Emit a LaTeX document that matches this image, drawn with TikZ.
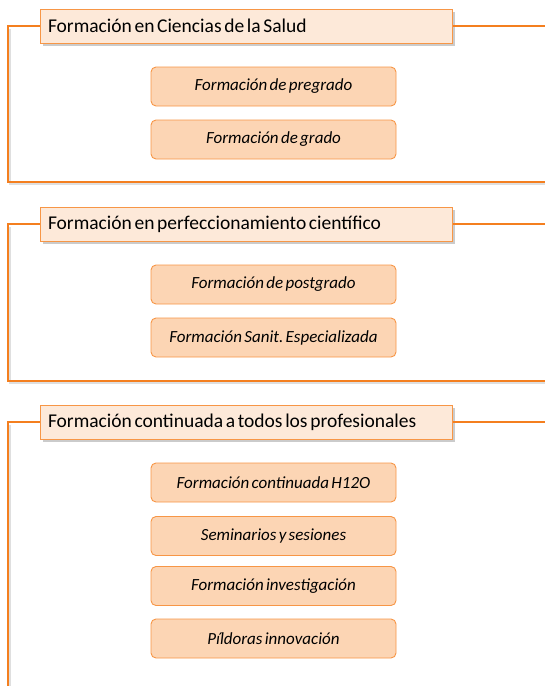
\documentclass[tikz,border=0pt]{standalone}
\usepackage{fontspec}
\setmainfont{Carlito}
\newfontfamily\tightfont[WordSpace=0.6]{Carlito}
\frenchspacing
\usepackage{tikz}
\usetikzlibrary{shadows}
\definecolor{hdrfill}{HTML}{FDE9D9}
\definecolor{boxfill}{HTML}{FCD5B4}
\definecolor{boxline}{HTML}{F79646}
\definecolor{frameline}{HTML}{F47F1F}
\tikzset{
  header/.style={draw=boxline,fill=hdrfill,line width=1pt,
    text width=396pt,inner xsep=8pt,minimum height=34pt,align=flush left,
    font=\tightfont\fontsize{19.5}{21}\selectfont,
    drop shadow={shadow xshift=3pt,shadow yshift=-3pt,fill=black!45,opacity=.45}},
  item/.style={draw=boxline,fill=boxfill,line width=0.9pt,rounded corners=5pt,
    minimum width=245pt,minimum height=39pt,inner sep=0pt,
    font=\tightfont\fontsize{17}{19}\selectfont\itshape},
  frame/.style={draw=frameline,line width=1.6pt},
  frameshade/.style={draw=black!25,line width=2pt,opacity=.5}
}

\begin{document}
\begin{tikzpicture}[x=1pt,y=-1pt]
  \useasboundingbox (0,0) rectangle (545,686);
  % Frame shading
  \foreach \t/\b in {27/182,225/381} {
    \draw[frameshade] (10,\t+2) -- (10,\b+2) -- (545,\b+2);
  }
  \draw[frameshade] (10,425) -- (10,686);
  % Headers
  \node[header] (salud) at (246,26) {Formación en Ciencias de la Salud};
  \node[header] (perfec) at (246,224) {Formación en perfeccionamiento científico};
  \node[header] (contin) at (246,422) {Formación continuada a todos los profesionales};
  % Frames
  \coordinate (saludR) at (545,26);
  \coordinate (saludB) at (545,182);
  \coordinate (perfecR) at (545,224);
  \coordinate (perfecB) at (545,381);
  \coordinate (continR) at (545,422);
  \coordinate (continB) at (8,686);
  \draw[frame] (salud.west) -- (8,26) |- (saludB);
  \draw[frame] (salud.east) -- (saludR);
  \draw[frame] (perfec.west) -- (8,224) |- (perfecB);
  \draw[frame] (perfec.east) -- (perfecR);
  \draw[frame] (contin.west) -- (8,422) -- (continB);
  \draw[frame] (contin.east) -- (continR);
  % Items
  \node[item] (pregrado) at (273.5,86.5) {Formación de pregrado};
  \node[item] (grado) at (273.5,139.5) {Formación de grado};
  \node[item] (postgrado) at (273.5,284.5) {Formación de postgrado};
  \node[item] (fse) at (273.5,337.5) {Formación Sanit. Especializada};
  \node[item] (h12o) at (273.5,482.5) {Formación continuada H12O};
  \node[item] (semin) at (273.5,536) {Seminarios y sesiones};
  \node[item] (invest) at (273.5,586) {Formación investigación};
  \node[item] (pildoras) at (273.5,638.5) {Píldoras innovación};
\end{tikzpicture}
\end{document}
